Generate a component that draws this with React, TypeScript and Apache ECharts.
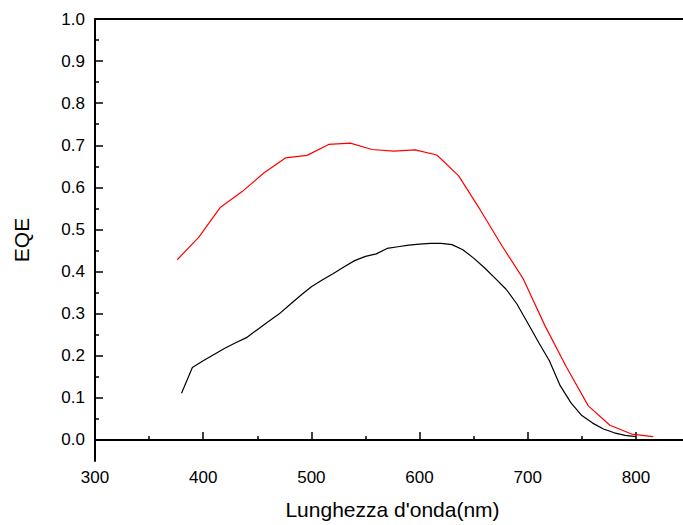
import React, { useEffect, useRef } from "react";
import * as echarts from "echarts";

const redX = [376, 396, 416, 436, 456, 476, 496, 516, 536, 556, 576, 596, 616, 636, 656, 676, 696, 716, 736, 756, 776, 796, 816];
const redY = [0.428, 0.482, 0.553, 0.590, 0.634, 0.670, 0.676, 0.702, 0.705, 0.690, 0.686, 0.689, 0.677, 0.628, 0.547, 0.462, 0.382, 0.271, 0.172, 0.081, 0.035, 0.014, 0.008];

const blackX = [380, 390, 400, 410, 420, 430, 440, 450, 460, 470, 480, 490, 500, 510, 520, 530, 540, 550, 560, 570, 580, 590, 600, 610, 620, 630, 640, 650, 660, 670, 680, 690, 700, 710, 720, 730, 740, 750, 760, 770, 780, 790, 800];
const blackY = [0.111, 0.172, 0.188, 0.203, 0.218, 0.231, 0.243, 0.262, 0.281, 0.299, 0.321, 0.343, 0.364, 0.380, 0.395, 0.411, 0.426, 0.436, 0.442, 0.455, 0.459, 0.463, 0.465, 0.467, 0.467, 0.464, 0.452, 0.432, 0.409, 0.384, 0.358, 0.323, 0.278, 0.232, 0.188, 0.129, 0.088, 0.058, 0.040, 0.026, 0.017, 0.011, 0.008];

const xTicks = [300, 400, 500, 600, 700, 800];
const xMinor = [350, 450, 550, 650, 750, 850];
const yTicks = [0.0, 0.1, 0.2, 0.3, 0.4, 0.5, 0.6, 0.7, 0.8, 0.9, 1.0];
const yMinor = [0.05, 0.15, 0.25, 0.35, 0.45, 0.55, 0.65, 0.75, 0.85, 0.95];

const xTitle = "Lunghezza d'onda(nm)";
const yTitle = "EQE";

const FONT = "'Liberation Sans', Arial, sans-serif";

export default function App() {
  const ref = useRef<HTMLDivElement>(null);
  useEffect(() => {
    if (!ref.current) return;
    const chart = echarts.init(ref.current, undefined, { renderer: "svg" });
    const xMin = 300, xMax = 850, yMin = -0.05, yMax = 1.0;
    const axisLine = { show: true, lineStyle: { color: "#000", width: 2 } };
    chart.setOption({
      animation: false,
      backgroundColor: "#fff",
      grid: { left: 95, top: 19, right: 30, bottom: 64, containLabel: false },
      xAxis: [
        {
          type: "value", min: xMin, max: xMax, position: "bottom",
          axisLine,
          axisTick: { show: true, inside: true, length: 8, customValues: xTicks, lineStyle: { color: "#000", width: 1.5 } },
          axisLabel: { customValues: xTicks, color: "#000", fontSize: 17, fontFamily: FONT, margin: 8 },
          splitLine: { show: false },
          name: xTitle, nameLocation: "middle", nameGap: 38,
          nameTextStyle: { color: "#000", fontSize: 21, fontFamily: FONT },
        },
        {
          type: "value", min: xMin, max: xMax, position: "bottom",
          axisLine: { show: false },
          axisTick: { show: true, inside: true, length: 4, customValues: xMinor, lineStyle: { color: "#000", width: 1.5 } },
          axisLabel: { show: false },
          splitLine: { show: false },
        },
        {
          type: "value", min: xMin, max: xMax, position: "top",
          axisLine,
          axisTick: { show: false },
          axisLabel: { show: false },
          splitLine: { show: false },
        },
      ],
      yAxis: [
        {
          type: "value", min: yMin, max: yMax, position: "left",
          axisLine,
          axisTick: { show: true, inside: true, length: 8, customValues: yTicks, lineStyle: { color: "#000", width: 1.5 } },
          axisLabel: {
            customValues: yTicks, color: "#000", fontSize: 17, fontFamily: FONT, margin: 10,
            formatter: (v: number) => v.toFixed(1),
          },
          splitLine: { show: false },
          name: yTitle, nameLocation: "middle", nameGap: 63,
          nameTextStyle: { color: "#000", fontSize: 21, fontFamily: FONT },
        },
        {
          type: "value", min: yMin, max: yMax, position: "left",
          axisLine: { show: false },
          axisTick: { show: true, inside: true, length: 4, customValues: yMinor, lineStyle: { color: "#000", width: 1.5 } },
          axisLabel: { show: false },
          splitLine: { show: false },
        },
      ],
      series: [
        {
          type: "line", xAxisIndex: 0, yAxisIndex: 0,
          data: redX.map((x, i) => [x, redY[i]]),
          showSymbol: false, symbol: "none",
          lineStyle: { color: "#ff0000", width: 1.2 },
        },
        {
          type: "line", xAxisIndex: 0, yAxisIndex: 0,
          data: blackX.map((x, i) => [x, blackY[i]]),
          showSymbol: false, symbol: "none",
          lineStyle: { color: "#000000", width: 1.2 },
        },
      ],
    });
    return () => chart.dispose();
  }, []);
  return (
    <div style={{ position: "fixed", left: 0, top: 0, width: 683, height: 525, overflow: "hidden", background: "#fff" }}>
      <div ref={ref} style={{ width: 720, height: 525 }} />
    </div>
  );
}
